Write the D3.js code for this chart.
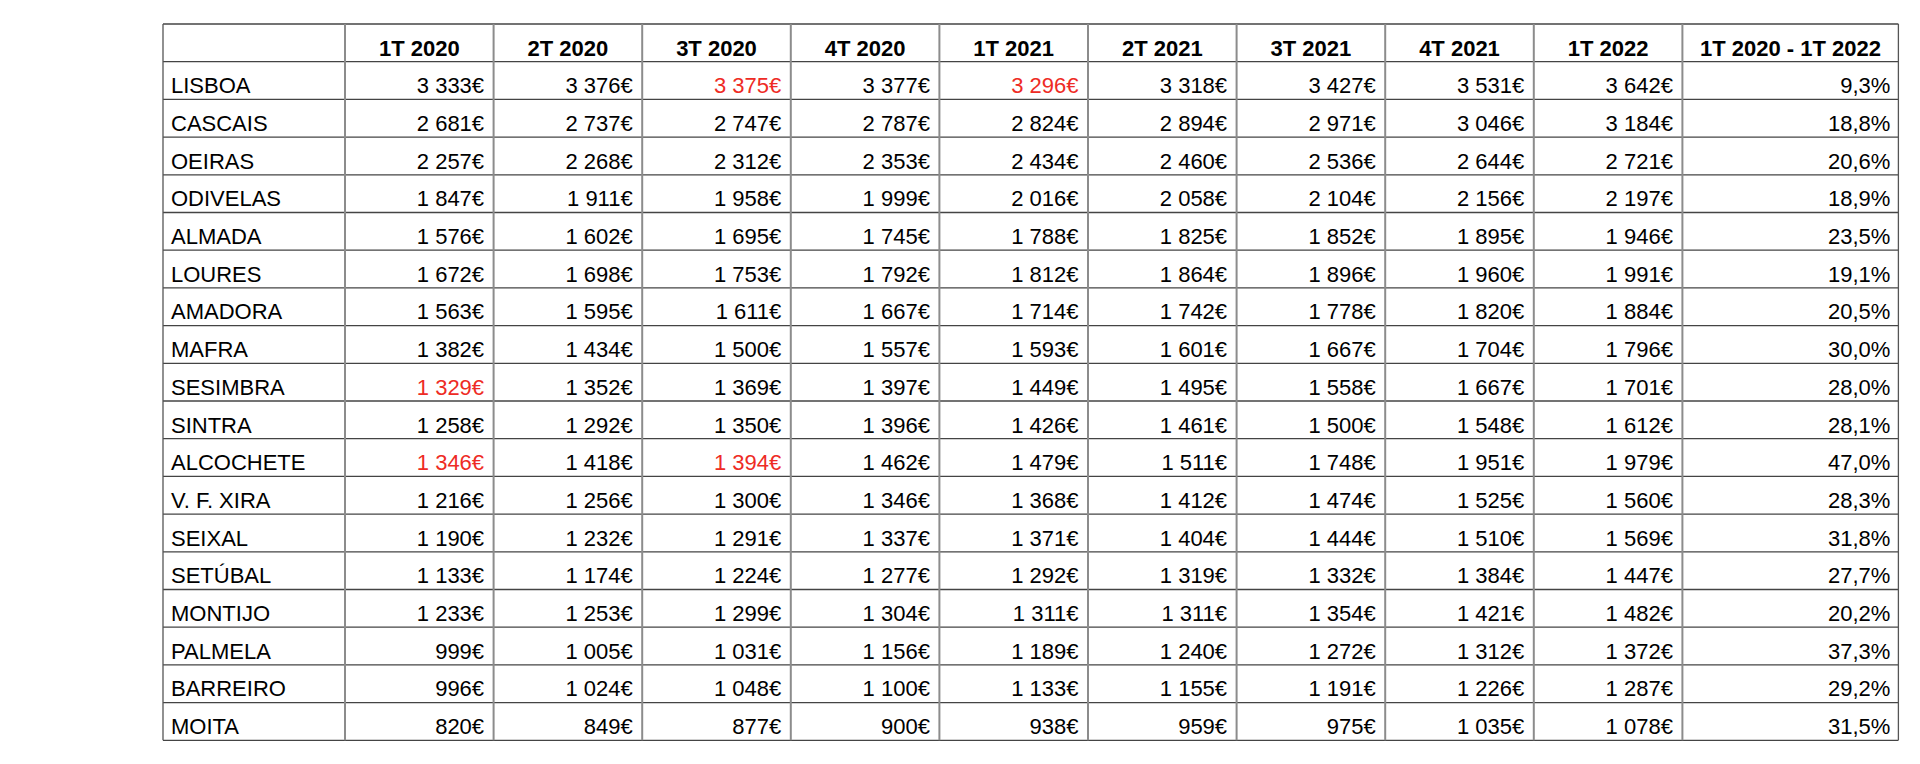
<!DOCTYPE html>
<html lang="pt">

<head>
    <meta charset="UTF-8">
    <title>Renda mediana por concelho</title>
    <script src="https://cdn.jsdelivr.net/npm/d3@7"></script>
    <style>
        body { margin: 0; background: #fff; }
        text { font-family: "Liberation Sans", Arial, Helvetica, sans-serif; font-size: 22px; fill: #000; }
    </style>
</head>

<body>
    <svg id="chart" width="1920" height="764"></svg>
    <script>
        var concelhos = ["LISBOA", "CASCAIS", "OEIRAS", "ODIVELAS", "ALMADA", "LOURES", "AMADORA", "MAFRA", "SESIMBRA",
            "SINTRA", "ALCOCHETE", "V. F. XIRA", "SEIXAL", "SETÚBAL", "MONTIJO", "PALMELA", "BARREIRO", "MOITA"]
        var trimestres = ["1T 2020", "2T 2020", "3T 2020", "4T 2020", "1T 2021", "2T 2021", "3T 2021", "4T 2021", "1T 2022"]
        var colunaVariacao = "1T 2020 - 1T 2022"

        // valores em euros, uma linha por concelho, uma coluna por trimestre
        var valores = [
            [3333, 3376, 3375, 3377, 3296, 3318, 3427, 3531, 3642],
            [2681, 2737, 2747, 2787, 2824, 2894, 2971, 3046, 3184],
            [2257, 2268, 2312, 2353, 2434, 2460, 2536, 2644, 2721],
            [1847, 1911, 1958, 1999, 2016, 2058, 2104, 2156, 2197],
            [1576, 1602, 1695, 1745, 1788, 1825, 1852, 1895, 1946],
            [1672, 1698, 1753, 1792, 1812, 1864, 1896, 1960, 1991],
            [1563, 1595, 1611, 1667, 1714, 1742, 1778, 1820, 1884],
            [1382, 1434, 1500, 1557, 1593, 1601, 1667, 1704, 1796],
            [1329, 1352, 1369, 1397, 1449, 1495, 1558, 1667, 1701],
            [1258, 1292, 1350, 1396, 1426, 1461, 1500, 1548, 1612],
            [1346, 1418, 1394, 1462, 1479, 1511, 1748, 1951, 1979],
            [1216, 1256, 1300, 1346, 1368, 1412, 1474, 1525, 1560],
            [1190, 1232, 1291, 1337, 1371, 1404, 1444, 1510, 1569],
            [1133, 1174, 1224, 1277, 1292, 1319, 1332, 1384, 1447],
            [1233, 1253, 1299, 1304, 1311, 1311, 1354, 1421, 1482],
            [999, 1005, 1031, 1156, 1189, 1240, 1272, 1312, 1372],
            [996, 1024, 1048, 1100, 1133, 1155, 1191, 1226, 1287],
            [820, 849, 877, 900, 938, 959, 975, 1035, 1078]
        ]
        var variacao = [9.3, 18.8, 20.6, 18.9, 23.5, 19.1, 20.5, 30.0, 28.0, 28.1, 47.0, 28.3, 31.8, 27.7, 20.2, 37.3, 29.2, 31.5]

        // celulas a vermelho: [linha, trimestre]
        var destaques = [[0, 2], [0, 4], [8, 0], [10, 0], [10, 2]]

        var pt = d3.formatLocale({ decimal: ",", thousands: " ", grouping: [3], currency: ["", "€"] })
        var fmtEuro = pt.format("$,d")
        var fmtPct = pt.format(".1f")

        var svg = d3.select("#chart")
        var leftX = 163, nameW = 182, colW = 148.6, lastW = 216
        var topY = 24, headH = 37.7
        var bottomY = topY + headH + 37.7 * concelhos.length

        var x = d3.scaleBand().domain(trimestres).range([leftX + nameW, leftX + nameW + colW * trimestres.length])
        var xEnd = x.range()[1]
        var y = d3.scaleBand().domain(concelhos).range([topY + headH, bottomY])

        var g = svg.append("g")

        // cabecalho
        g.selectAll("text.head").data(trimestres).join("text")
            .attr("class", "head")
            .attr("x", d => x(d) + x.bandwidth() / 2)
            .attr("y", topY + 32)
            .attr("text-anchor", "middle")
            .attr("font-weight", "bold")
            .text(d => d)
        g.append("text")
            .attr("x", xEnd + lastW / 2)
            .attr("y", topY + 32)
            .attr("text-anchor", "middle")
            .attr("font-weight", "bold")
            .text(colunaVariacao)

        // linhas da tabela
        var linhas = g.selectAll("g.row").data(concelhos).join("g")
            .attr("class", "row")
            .attr("transform", d => "translate(0," + y(d) + ")")

        linhas.append("text")
            .attr("x", leftX + 8)
            .attr("y", 31.6)
            .text(d => d)

        linhas.selectAll("text.val").data((d, i) => valores[i].map((v, j) => ({ v: v, i: i, j: j })))
            .join("text")
            .attr("class", "val")
            .attr("x", d => x(trimestres[d.j]) + x.bandwidth() - 9.5)
            .attr("y", 31.6)
            .attr("text-anchor", "end")
            .style("fill", d => destaques.some(h => h[0] == d.i && h[1] == d.j) ? "#ee2b25" : null)
            .text(d => fmtEuro(d.v))

        linhas.append("text")
            .attr("x", xEnd + lastW - 8)
            .attr("y", 31.6)
            .attr("text-anchor", "end")
            .text((d, i) => fmtPct(variacao[i]) + "%")

        // grelha
        var grid = svg.append("g")
        var hs = [topY, topY + headH].concat(concelhos.map(d => y(d) + y.bandwidth()))
        grid.selectAll("line.h").data(hs).join("line")
            .attr("x1", leftX).attr("x2", xEnd + lastW)
            .attr("y1", d => d).attr("y2", d => d)
            .attr("stroke", "#444").attr("stroke-width", 1.3)
        var vs = [leftX + nameW].concat(trimestres.map(d => x(d) + x.bandwidth()))
        grid.selectAll("line.v").data(vs).join("line")
            .attr("x1", d => d).attr("x2", d => d)
            .attr("y1", topY).attr("y2", bottomY)
            .attr("stroke", "#8c8c8c").attr("stroke-width", 2)
        grid.selectAll("line.b").data([leftX, xEnd + lastW]).join("line")
            .attr("x1", d => d).attr("x2", d => d)
            .attr("y1", topY).attr("y2", bottomY)
            .attr("stroke", "#555").attr("stroke-width", 1.3)
    </script>
</body>

</html>
